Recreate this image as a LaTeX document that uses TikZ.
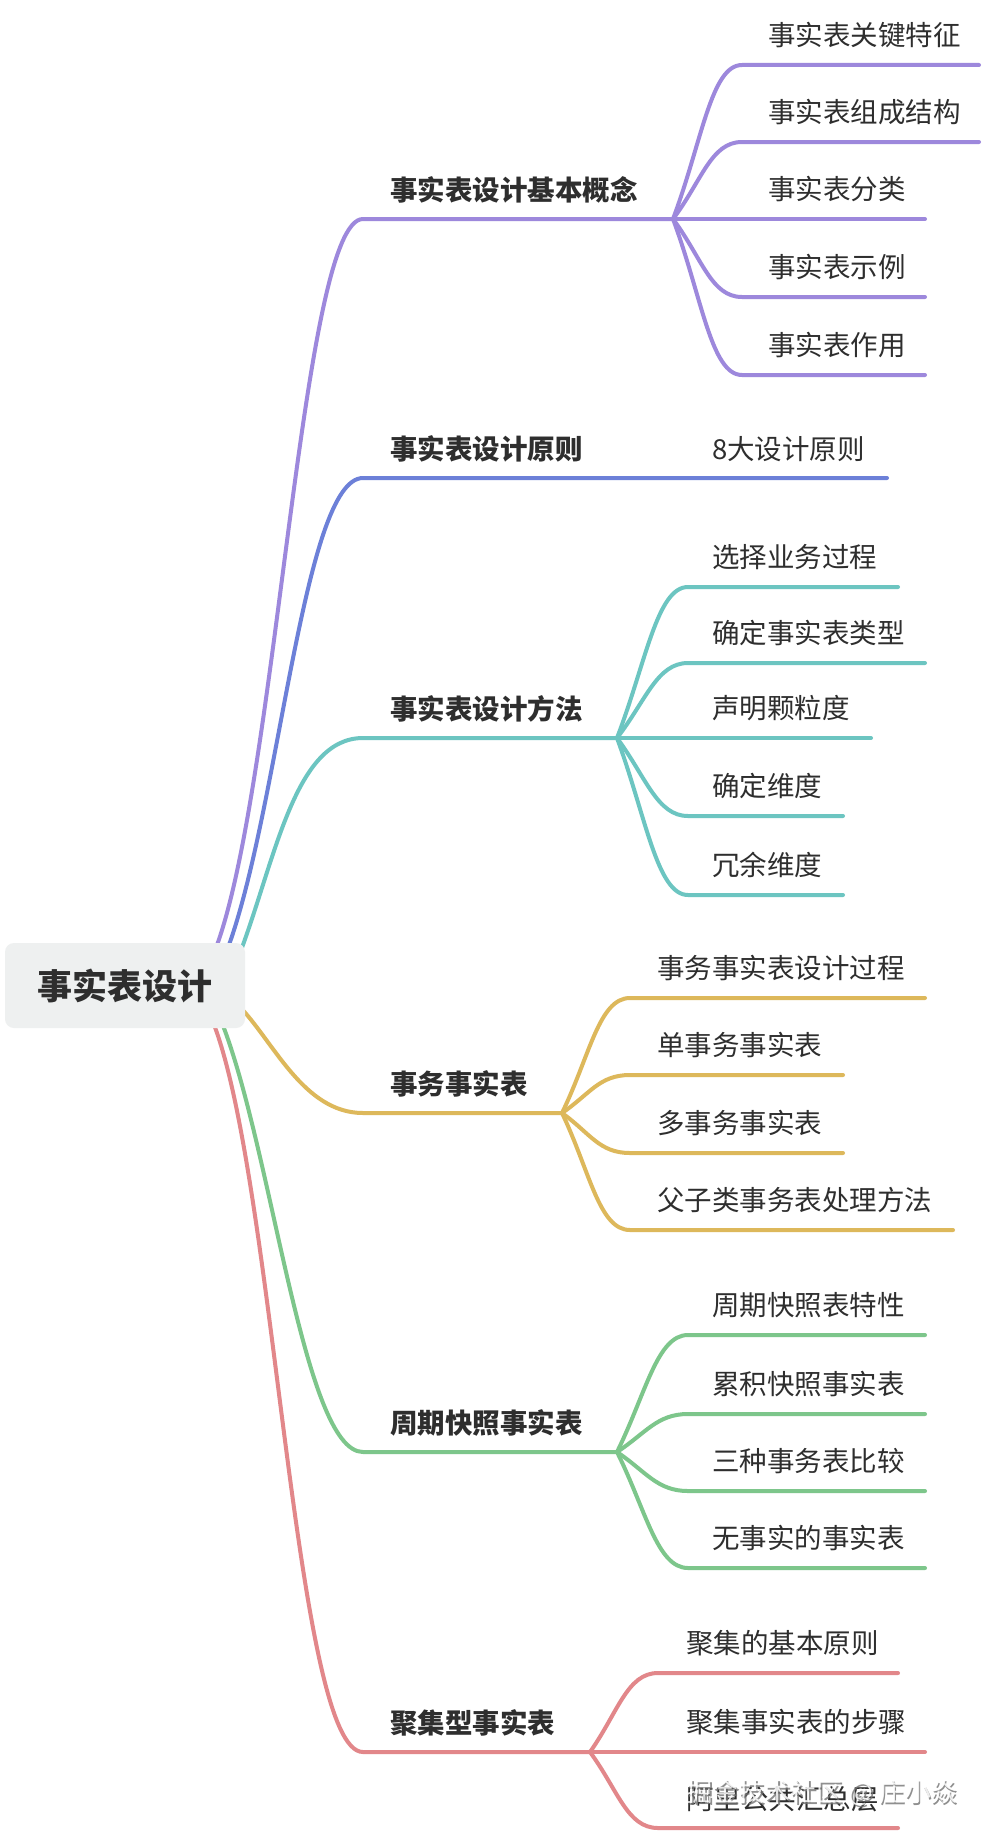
\documentclass[tikz,border=0pt]{standalone}
\usepackage{fontspec}
\setmainfont{Noto Sans CJK SC}
\definecolor{cP}{HTML}{9D88DC}
\definecolor{cB}{HTML}{6C80D8}
\definecolor{cT}{HTML}{6CC5C1}
\definecolor{cY}{HTML}{DDB85B}
\definecolor{cG}{HTML}{7DC68B}
\definecolor{cR}{HTML}{E2878A}
\definecolor{txt}{HTML}{2E2E2E}
\definecolor{rootbg}{HTML}{EEF0F0}
\begin{document}
\begin{tikzpicture}[x=1pt,y=-1pt,
  br/.style={line width=4pt, line cap=round, line join=round},
  l1/.style={font=\fontsize{27.5}{31}\selectfont\bfseries, text=txt, inner sep=0pt, anchor=west},
  l2/.style={font=\fontsize{27.5}{31}\selectfont, text=txt, inner sep=0pt, anchor=west},
  rootbox/.style={fill=rootbg, rounded corners=9pt, minimum width=240pt, minimum height=85pt, inner sep=0pt,
    font=\fontsize{35}{40}\selectfont\bfseries, text=txt}]
\useasboundingbox (0,0) rectangle (984,1836);
\fill[white] (0,0) rectangle (984,1836);

% ---------- coordinates: root exits (hidden under the root box) ----------
\coordinate (sP) at (214,953);
\coordinate (sB) at (226,953);
\coordinate (sT) at (240,953);
\coordinate (sY) at (238,1005);
\coordinate (sG) at (220,1018);
\coordinate (sR) at (213,1022);

% ---------- level-1 line starts and junctions ----------
\coordinate (aP) at (363,219);  \coordinate (jP) at (673,219);
\coordinate (aB) at (363,478);  \coordinate (eB) at (887,478);
\coordinate (aT) at (363,738);  \coordinate (jT) at (617,738);
\coordinate (aY) at (363,1113); \coordinate (jY) at (562,1113);
\coordinate (aG) at (363,1452); \coordinate (jG) at (617,1452);
\coordinate (aR) at (363,1752); \coordinate (jR) at (590,1752);

% ---------- root connectors ----------
\draw[br,cP] (sP) .. controls +(63,-158) and +(-62,0) .. (aP) -- (jP);
\draw[br,cB] (sB) .. controls +(53,-138) and +(-60,0) .. (aB) -- (eB);
\draw[br,cT] (sT) .. controls +(36,-96) and +(-68,0) .. (aT) -- (jT);
\draw[br,cY] (sY) .. controls +(35,35) and +(-60,0) .. (aY) -- (jY);
\draw[br,cG] (sG) .. controls +(52,127) and +(-60,0) .. (aG) -- (jG);
\draw[br,cR] (sR) .. controls +(62,158) and +(-68,0) .. (aR) -- (jR);

% ---------- root ----------
\node[rootbox] (root) at (125,985.5) {事实表设计};

% ---------- level-1 labels ----------
\node[l1] (tP) at (390,190) {事实表设计基本概念};
\node[l1] (tB) at (390,449) {事实表设计原则};
\node[l1] (tT) at (390,709) {事实表设计方法};
\node[l1] (tY) at (390,1084) {事务事实表};
\node[l1] (tG) at (390,1423) {周期快照事实表};
\node[l1] (tR) at (390,1723) {聚集型事实表};

% ---------- purple children ----------
\coordinate (cP1) at (742,65);  \coordinate (eP1) at (979,65);
\coordinate (cP2) at (742,142); \coordinate (eP2) at (979,142);
\coordinate (eP3) at (925,219);
\coordinate (cP4) at (742,297); \coordinate (eP4) at (925,297);
\coordinate (cP5) at (742,375); \coordinate (eP5) at (925,375);
\draw[br,cP] (jP) .. controls +(29,-77) and +(-31,0) .. (cP1) -- (eP1);
\draw[br,cP] (jP) .. controls +(29,-38.5) and +(-31,0) .. (cP2) -- (eP2);
\draw[br,cP] (jP) -- (eP3);
\draw[br,cP] (jP) .. controls +(29,39) and +(-31,0) .. (cP4) -- (eP4);
\draw[br,cP] (jP) .. controls +(29,78) and +(-31,0) .. (cP5) -- (eP5);
\node[l2] (nP1) at (768,35) {事实表关键特征};
\node[l2] (nP2) at (768,112) {事实表组成结构};
\node[l2] (nP3) at (768,189) {事实表分类};
\node[l2] (nP4) at (768,267) {事实表示例};
\node[l2] (nP5) at (768,345) {事实表作用};

% ---------- blue child ----------
\node[l2] (nB1) at (712,449) {8大设计原则};

% ---------- teal children ----------
\coordinate (cT1) at (688,587); \coordinate (eT1) at (898,587);
\coordinate (cT2) at (688,663); \coordinate (eT2) at (925,663);
\coordinate (eT3) at (871,738);
\coordinate (cT4) at (688,816); \coordinate (eT4) at (843,816);
\coordinate (cT5) at (688,895); \coordinate (eT5) at (843,895);
\draw[br,cT] (jT) .. controls +(29,-75.5) and +(-31,0) .. (cT1) -- (eT1);
\draw[br,cT] (jT) .. controls +(29,-37.5) and +(-31,0) .. (cT2) -- (eT2);
\draw[br,cT] (jT) -- (eT3);
\draw[br,cT] (jT) .. controls +(29,39) and +(-31,0) .. (cT4) -- (eT4);
\draw[br,cT] (jT) .. controls +(29,78.5) and +(-31,0) .. (cT5) -- (eT5);
\node[l2] (nT1) at (712,557) {选择业务过程};
\node[l2] (nT2) at (712,633) {确定事实表类型};
\node[l2] (nT3) at (712,708) {声明颗粒度};
\node[l2] (nT4) at (712,786) {确定维度};
\node[l2] (nT5) at (712,865) {冗余维度};

% ---------- yellow children ----------
\coordinate (cY1) at (630,998);  \coordinate (eY1) at (925,998);
\coordinate (cY2) at (630,1075); \coordinate (eY2) at (843,1075);
\coordinate (cY3) at (630,1153); \coordinate (eY3) at (843,1153);
\coordinate (cY4) at (630,1230); \coordinate (eY4) at (953,1230);
\draw[br,cY] (jY) .. controls +(28,-57.5) and +(-31,0) .. (cY1) -- (eY1);
\draw[br,cY] (jY) .. controls +(28,-19) and +(-31,0) .. (cY2) -- (eY2);
\draw[br,cY] (jY) .. controls +(28,20) and +(-31,0) .. (cY3) -- (eY3);
\draw[br,cY] (jY) .. controls +(28,58.5) and +(-31,0) .. (cY4) -- (eY4);
\node[l2] (nY1) at (657,968) {事务事实表设计过程};
\node[l2] (nY2) at (657,1045) {单事务事实表};
\node[l2] (nY3) at (657,1123) {多事务事实表};
\node[l2] (nY4) at (657,1200) {父子类事务表处理方法};

% ---------- green children ----------
\coordinate (cG1) at (688,1335); \coordinate (eG1) at (925,1335);
\coordinate (cG2) at (688,1414); \coordinate (eG2) at (925,1414);
\coordinate (cG3) at (688,1491); \coordinate (eG3) at (925,1491);
\coordinate (cG4) at (688,1568); \coordinate (eG4) at (925,1568);
\draw[br,cG] (jG) .. controls +(29,-58.5) and +(-31,0) .. (cG1) -- (eG1);
\draw[br,cG] (jG) .. controls +(29,-19) and +(-31,0) .. (cG2) -- (eG2);
\draw[br,cG] (jG) .. controls +(29,19.5) and +(-31,0) .. (cG3) -- (eG3);
\draw[br,cG] (jG) .. controls +(29,58) and +(-31,0) .. (cG4) -- (eG4);
\node[l2] (nG1) at (712,1305) {周期快照表特性};
\node[l2] (nG2) at (712,1384) {累积快照事实表};
\node[l2] (nG3) at (712,1461) {三种事务表比较};
\node[l2] (nG4) at (712,1538) {无事实的事实表};

% ---------- red children ----------
\coordinate (cR1) at (658,1673); \coordinate (eR1) at (898,1673);
\coordinate (eR2) at (925,1752);
\coordinate (cR3) at (658,1828); \coordinate (eR3) at (898,1828);
\draw[br,cR] (jR) .. controls +(28,-39.5) and +(-31,0) .. (cR1) -- (eR1);
\draw[br,cR] (jR) -- (eR2);
\draw[br,cR] (jR) .. controls +(28,38) and +(-31,0) .. (cR3) -- (eR3);
\node[l2] (nR1) at (686,1643) {聚集的基本原则};
\node[l2] (nR2) at (686,1722) {聚集事实表的步骤};
\node[l2] (nR3) at (686,1799) {阿里公共汇总层};

% ---------- watermark ----------
\node[font=\fontsize{26}{30}\selectfont, text=black!55, opacity=0.8, inner sep=0pt] (wm0) at (823.5,1794.5) {掘金技术社区 @ 庄小焱};
\node[font=\fontsize{26}{30}\selectfont, text=white, opacity=0.85, inner sep=0pt] (wm) at (822,1793) {掘金技术社区 @ 庄小焱};
\end{tikzpicture}
\end{document}
